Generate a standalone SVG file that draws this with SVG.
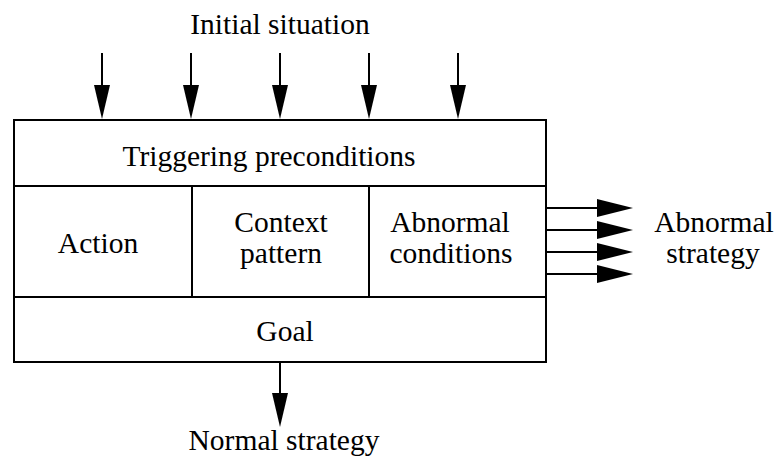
<svg xmlns="http://www.w3.org/2000/svg" width="779" height="460" viewBox="0 0 779 460">
<style>
text{font-family:"Liberation Serif","Times New Roman",Times,serif;font-size:29.5px;fill:#000;text-anchor:middle}
.box{fill:#fff;stroke:#000;stroke-width:2}
.ln{stroke:#000;stroke-width:2;fill:none}
.hd{fill:#000}
</style>
<rect width="779" height="460" fill="#fff"/>
<text x="280" y="34">Initial situation</text>
<g id="triggering"><rect class="box" x="14" y="120" width="532" height="66"/><text x="269" y="166">Triggering preconditions</text></g>
<g id="action"><rect class="box" x="14" y="186" width="178" height="111"/><text x="98" y="253">Action</text></g>
<g id="context"><rect class="box" x="192" y="186" width="177" height="111"/><text x="281" y="232">Context</text><text x="281" y="263">pattern</text></g>
<g id="abnormal"><rect class="box" x="369" y="186" width="177" height="111"/><text x="450" y="232">Abnormal</text><text x="451" y="263">conditions</text></g>
<g id="goal"><rect class="box" x="14" y="297" width="532" height="65"/><text x="285" y="341">Goal</text></g>
<text x="714" y="232">Abnormal</text><text x="713" y="263">strategy</text>
<text x="284" y="450">Normal strategy</text>
<g id="connectors">
<g class="ln">
<line x1="102" y1="53" x2="102" y2="88"/><line x1="191" y1="53" x2="191" y2="88"/><line x1="280" y1="53" x2="280" y2="88"/><line x1="369" y1="53" x2="369" y2="88"/><line x1="458" y1="53" x2="458" y2="88"/>
<line x1="546" y1="208" x2="600" y2="208"/><line x1="546" y1="230" x2="600" y2="230"/><line x1="546" y1="252" x2="600" y2="252"/><line x1="546" y1="274" x2="600" y2="274"/>
<line x1="280" y1="362" x2="280" y2="396"/>
</g>
<g class="hd">
<polygon points="94,85 110,85 102,119"/><polygon points="183,85 199,85 191,119"/><polygon points="272,85 288,85 280,119"/><polygon points="361,85 377,85 369,119"/><polygon points="450,85 466,85 458,119"/>
<polygon points="597,199 597,217 633,208"/><polygon points="597,221 597,239 633,230"/><polygon points="597,243 597,261 633,252"/><polygon points="597,265 597,283 633,274"/>
<polygon points="272,393 288,393 280,427"/>
</g>
</g>
</svg>
